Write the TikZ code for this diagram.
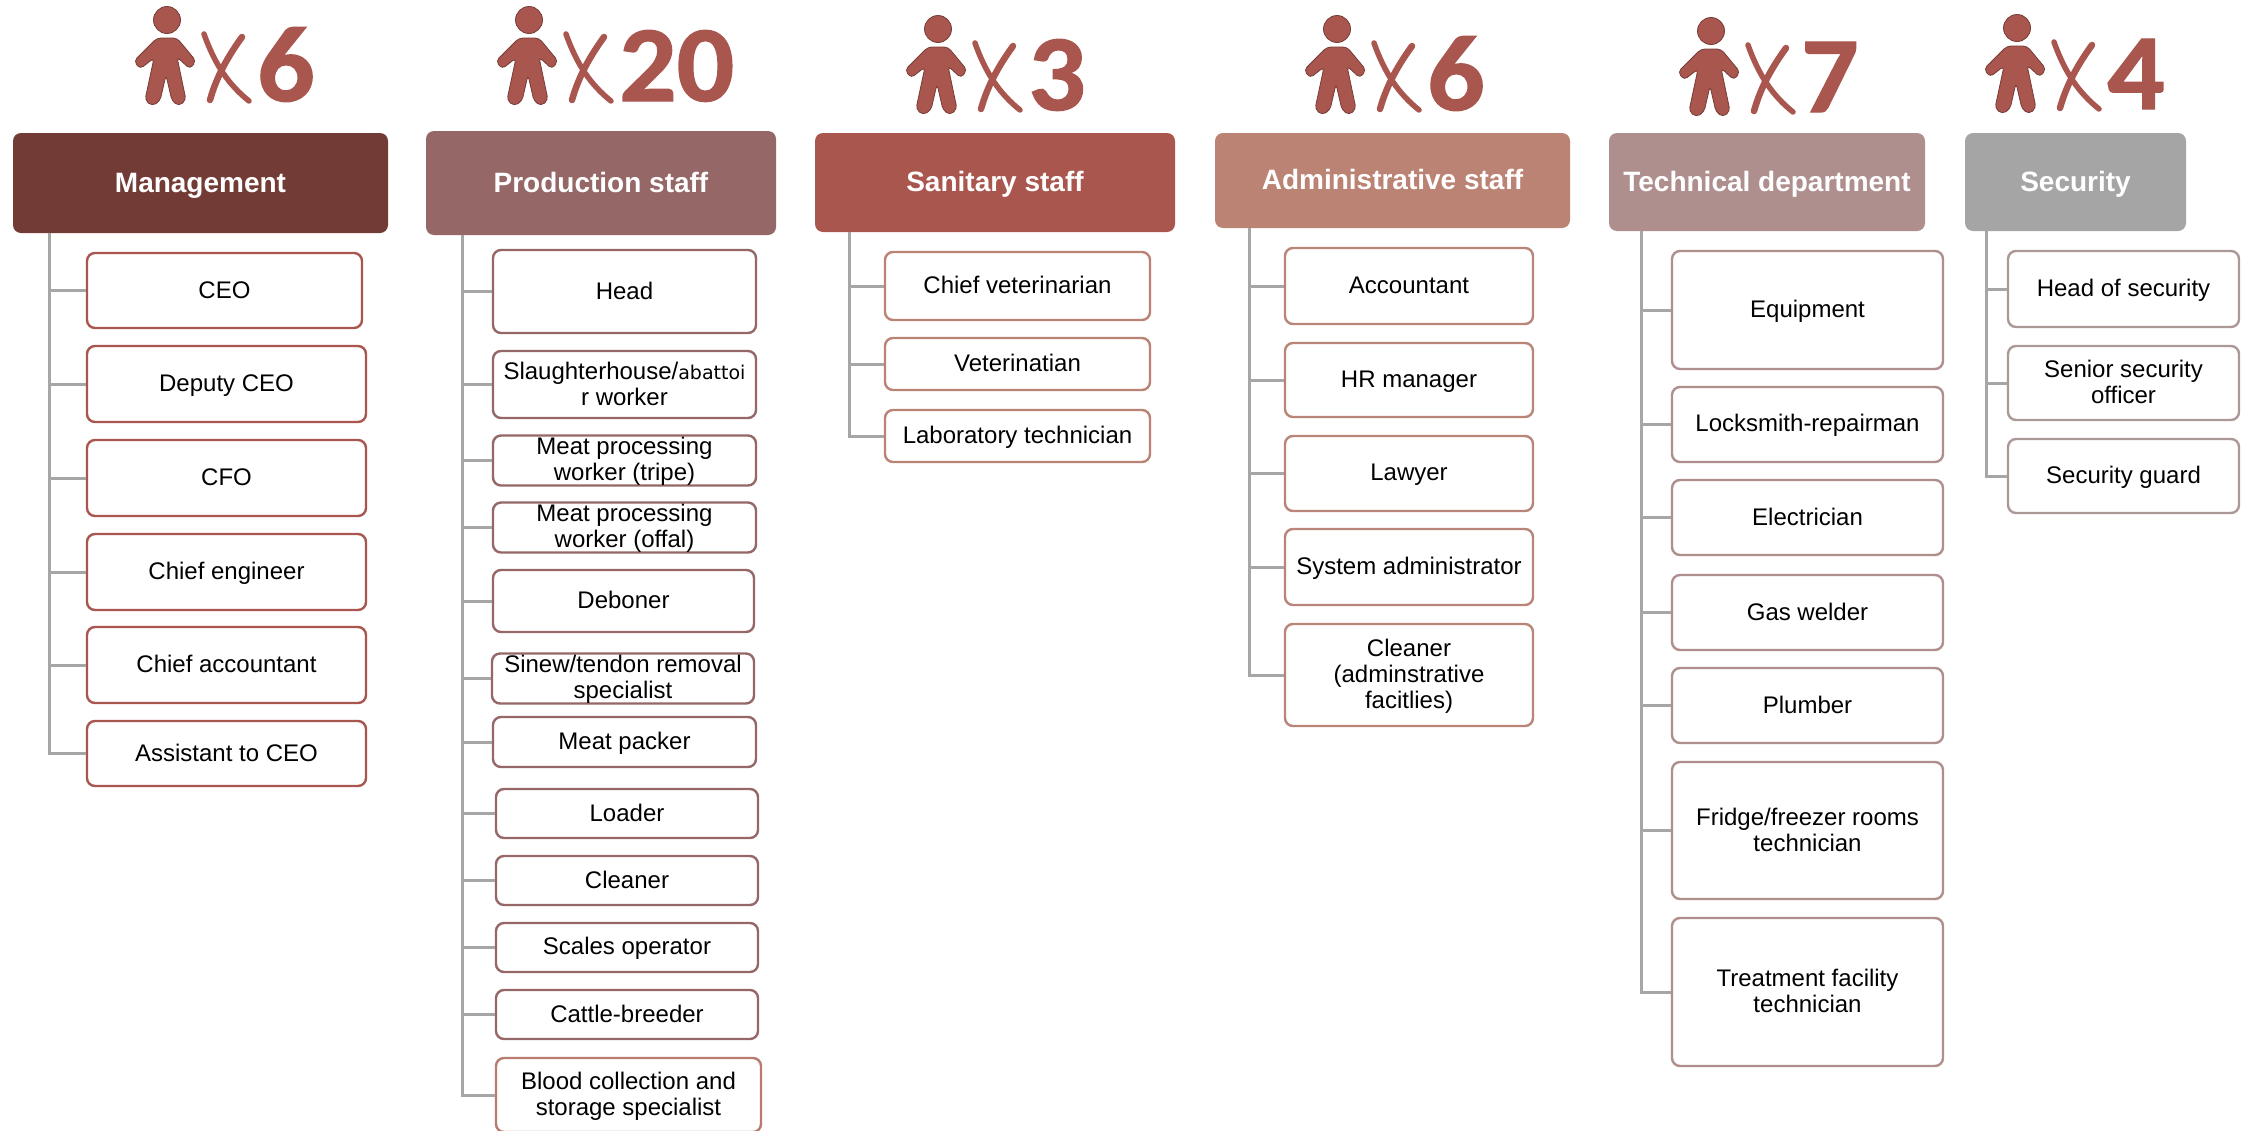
\documentclass[tikz,border=0pt]{standalone}
\usepackage{fontspec}
\setmainfont{Liberation Sans}
\newfontfamily\numfont[BoldFont=Carlito Bold,BoldFeatures={FakeBold=1.2}]{Carlito}
\newfontfamily\oddfont{DejaVu Sans}

\definecolor{brick}{HTML}{A9564E}
\definecolor{mgmtcol}{HTML}{733B36}
\definecolor{prodcol}{HTML}{956767}
\definecolor{admincol}{HTML}{BA8374}
\definecolor{techcol}{HTML}{AF8F8E}
\definecolor{seccol}{HTML}{A5A5A5}
\definecolor{linkcol}{HTML}{A6A6A6}

\tikzset{
  hdr/.style={rounded corners=8pt,inner sep=0pt,text=white,
    font=\fontsize{28}{32}\selectfont\bfseries},
  leaf/.style={draw,fill=white,line width=2.4pt,rounded corners=8pt,inner sep=0pt,
    align=center,font=\fontsize{24}{26}\selectfont},
  link/.style={linkcol,line width=3pt},
  pics/staffman/.style={code={
    \filldraw[fill=brick,draw=brick!70!black,line width=.8pt] (0,0) circle (13.5);
    \filldraw[fill=brick,draw=brick!70!black,line width=.8pt,rounded corners=4pt]
      (-10,18) -- (10,18) -- (29,41) -- (23,49) -- (10,37) -- (19,80) -- (12,86)
      -- (5,81) -- (-1,55) -- (-7,81) -- (-15,86) -- (-22,80) -- (-13,38)
      -- (-27,49) -- (-33,41) -- cycle;
    \draw[brick,line width=5.5pt,line cap=round] (37,14) .. controls (48,45) and (62,65) .. (82,81);
    \draw[brick,line width=6.5pt,line cap=round] (75,17) .. controls (62,35) and (50,55) .. (43,80);
    \node[anchor=base west,inner sep=0pt,text=brick,xscale=1.05,
      font=\fontsize{108}{108}\selectfont\numfont\bfseries] (-num) at (90,81) {#1};
  }}
}

% box from its two corners: name, colour, x1, y1, x2, y2, text
\newcommand{\leafstrut}{\rule[-4pt]{0pt}{23pt}}
\newcommand{\hdrstrut}{\rule[-6pt]{0pt}{30pt}}
\newcommand{\leafbox}[7]{%
  \node[leaf,draw=#2,minimum width={#5-#3},minimum height={#6-#4}]
    (#1) at ({(#3+#5)/2},{(#4+#6)/2}) {\leafstrut #7\leafstrut};}
\newcommand{\hdrbox}[7]{%
  \node[hdr,fill=#2,minimum width={#5-#3},minimum height={#6-#4}]
    (#1) at ({(#3+#5)/2},{(#4+#6)/2}) {\hdrstrut #7};}

\begin{document}
\begin{tikzpicture}[x=1pt,y=-1pt]
\useasboundingbox[fill=white] (0,0) rectangle (2249,1130);

%Figuren
\pic (m1) at (167,20) {staffman=6};
\pic (m2) at (529,20) {staffman=20};
\pic (m3) at (938,29) {staffman=3};
\pic (m4) at (1337,29) {staffman=6};
\pic (m5) at (1711,31) {staffman=7};
\pic (m6) at (2017,28) {staffman=4};

%Management
\hdrbox{mgmt}{mgmtcol}{13}{133}{388}{233}{Management}
\coordinate (t1) at (49,233);
\leafbox{ceo}{brick}{87}{253}{362}{328}{CEO}
\leafbox{deputy}{brick}{87}{346}{366}{422}{Deputy CEO}
\leafbox{cfo}{brick}{87}{440}{366}{516}{CFO}
\leafbox{engineer}{brick}{87}{534}{366}{610}{Chief engineer}
\leafbox{accountant}{brick}{87}{627}{366}{703}{Chief accountant}
\leafbox{assistant}{brick}{87}{721}{366}{786}{Assistant to CEO}
\foreach \n in {ceo,deputy,cfo,engineer,accountant,assistant}
  \draw[link] (t1) |- (\n.west);

%Production staff
\hdrbox{prod}{prodcol}{426}{131}{776}{235}{Production staff}
\coordinate (t2) at (462,235);
\leafbox{head}{prodcol}{493}{250}{756}{333}{Head}
\leafbox{slaughter}{prodcol}{493}{351}{756}{418}{Slaughterhouse/{\oddfont\fontsize{19}{26}\selectfont abattoi}\\r worker}
\leafbox{tripe}{prodcol}{493}{436}{756}{485}{Meat processing\\worker (tripe)}
\leafbox{offal}{prodcol}{493}{503}{756}{552}{Meat processing\\worker (offal)}
\leafbox{deboner}{prodcol}{493}{570}{754}{632}{Deboner}
\leafbox{sinew}{prodcol}{492}{654}{754}{703}{Sinew/tendon removal\\specialist}
\leafbox{packer}{prodcol}{493}{717}{756}{767}{Meat packer}
\leafbox{loader}{prodcol}{496}{789}{758}{838}{Loader}
\leafbox{cleaner}{prodcol}{496}{856}{758}{905}{Cleaner}
\leafbox{scales}{prodcol}{496}{923}{758}{972}{Scales operator}
\leafbox{cattle}{prodcol}{496}{990}{758}{1039}{Cattle-breeder}
\leafbox{blood}{admincol!85!brick}{496}{1058}{761}{1132}{Blood collection and\\storage specialist}
\foreach \n in {head,slaughter,tripe,offal,deboner,sinew,packer,loader,cleaner,scales,cattle,blood}
  \draw[link] (t2) |- (\n.west);

%Sanitary staff
\hdrbox{sanit}{brick}{815}{133}{1175}{232}{Sanitary staff}
\coordinate (t3) at (849,232);
\leafbox{chiefvet}{admincol}{885}{252}{1150}{320}{Chief veterinarian}
\leafbox{vet}{admincol}{885}{338}{1150}{390}{Veterinatian}
\leafbox{lab}{admincol}{885}{410}{1150}{462}{Laboratory technician}
\foreach \n in {chiefvet,vet,lab}
  \draw[link] (t3) |- (\n.west);

%Administrative staff
\hdrbox{admin}{admincol}{1215}{133}{1570}{228}{Administrative staff}
\coordinate (t4) at (1249,228);
\leafbox{acc}{admincol!85!techcol}{1285}{248}{1533}{324}{Accountant}
\leafbox{hr}{admincol!85!techcol}{1285}{343}{1533}{417}{HR manager}
\leafbox{lawyer}{admincol!85!techcol}{1285}{436}{1533}{511}{Lawyer}
\leafbox{sysadm}{admincol!85!techcol}{1285}{529}{1533}{605}{System administrator}
\leafbox{admclean}{admincol!85!techcol}{1285}{624}{1533}{726}{Cleaner\\(adminstrative\\facitlies)}
\foreach \n in {acc,hr,lawyer,sysadm,admclean}
  \draw[link] (t4) |- (\n.west);

%Technical department
\hdrbox{tech}{techcol}{1609}{133}{1925}{231}{Technical department}
\coordinate (t5) at (1641,231);
\leafbox{equip}{techcol}{1672}{251}{1943}{369}{Equipment}
\leafbox{lock}{techcol}{1672}{387}{1943}{462}{Locksmith-repairman}
\leafbox{elec}{techcol}{1672}{480}{1943}{555}{Electrician}
\leafbox{gas}{techcol}{1672}{575}{1943}{650}{Gas welder}
\leafbox{plumber}{techcol}{1672}{668}{1943}{743}{Plumber}
\leafbox{fridge}{techcol}{1672}{762}{1943}{899}{Fridge/freezer rooms\\technician}
\leafbox{treat}{techcol}{1672}{918}{1943}{1066}{Treatment facility\\technician}
\foreach \n in {equip,lock,elec,gas,plumber,fridge,treat}
  \draw[link] (t5) |- (\n.west);

%Security
\hdrbox{sec}{seccol}{1965}{133}{2186}{231}{Security}
\coordinate (t6) at (1986,231);
\leafbox{sechead}{techcol!60!seccol}{2008}{251}{2239}{327}{Head of security}
\leafbox{senior}{techcol!60!seccol}{2008}{346}{2239}{420}{Senior security\\officer}
\leafbox{guard}{techcol!60!seccol}{2008}{439}{2239}{513}{Security guard}
\foreach \n in {sechead,senior,guard}
  \draw[link] (t6) |- (\n.west);

\end{tikzpicture}
\end{document}
